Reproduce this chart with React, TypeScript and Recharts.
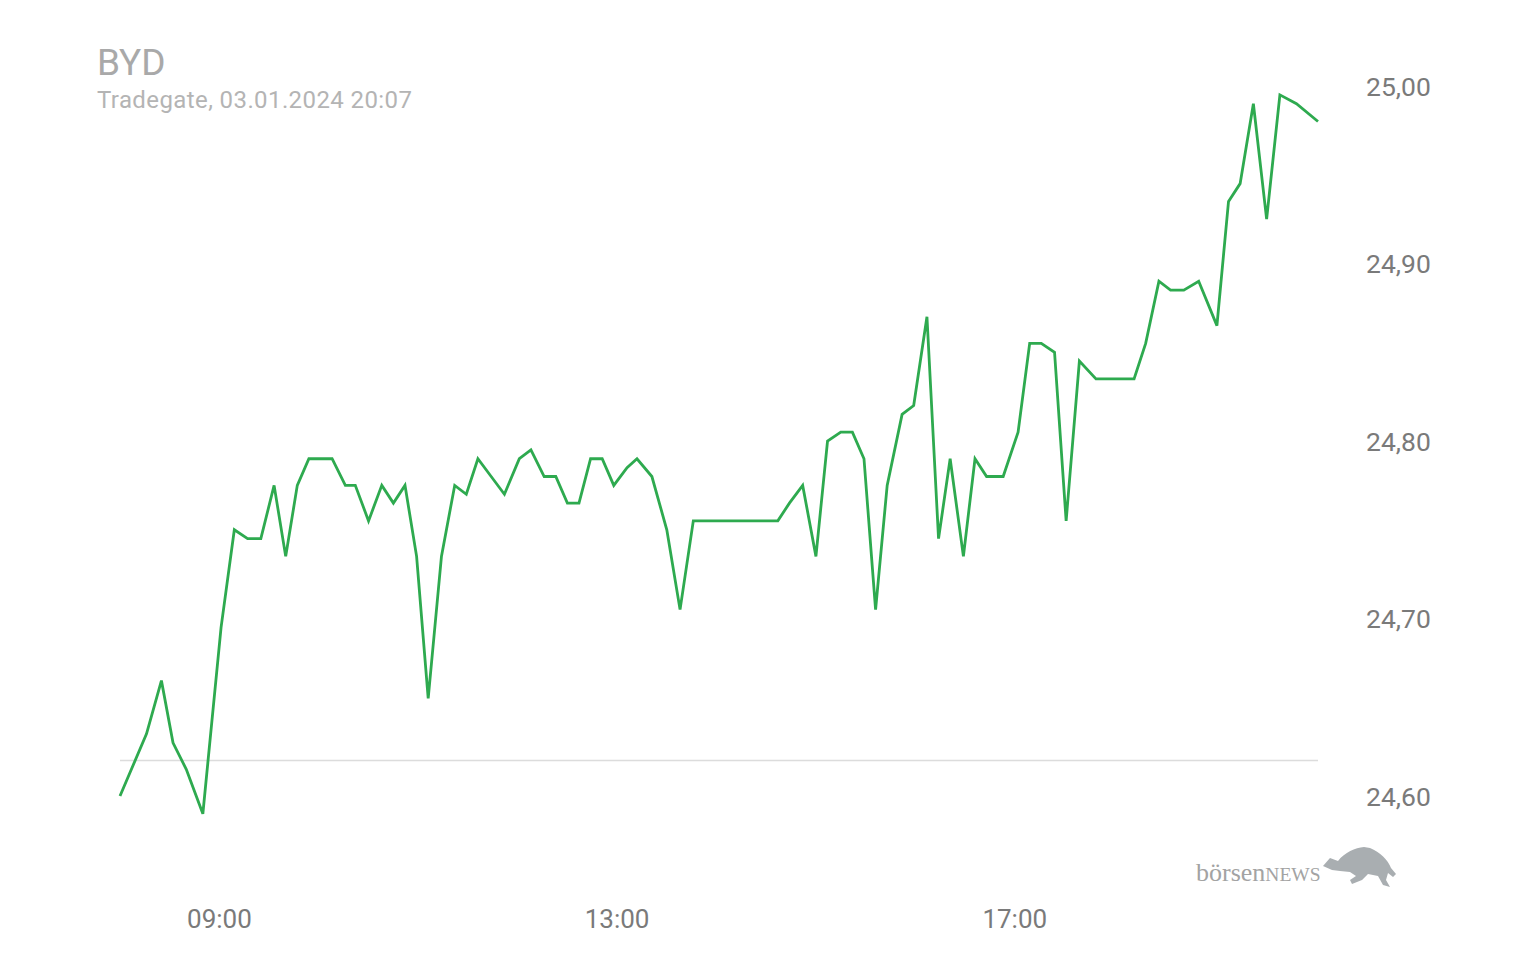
import { LineChart, Line, XAxis, YAxis, ReferenceLine } from "recharts"

// BYD – Tradegate intraday, 03.01.2024
const times = [
  "08:00", "08:16", "08:25", "08:32", "08:40", "08:50",
  "09:01", "09:09", "09:17", "09:25", "09:33", "09:40", "09:47", "09:54",
  "10:01", "10:08", "10:16", "10:22", "10:30", "10:38", "10:45", "10:52", "10:59",
  "11:06", "11:14", "11:22", "11:29", "11:36", "11:44", "11:52",
  "12:01", "12:08", "12:16", "12:23", "12:30", "12:37", "12:44", "12:51", "12:58",
  "13:06", "13:12", "13:21", "13:30", "13:38", "13:46", "13:52",
  "14:00", "14:07", "14:14", "14:21", "14:28", "14:37", "14:44", "14:52",
  "15:00", "15:07", "15:15", "15:22", "15:29", "15:36", "15:43", "15:52", "15:59",
  "16:07", "16:14", "16:21", "16:29", "16:36", "16:43", "16:53",
  "17:02", "17:09", "17:16", "17:24", "17:31", "17:39", "17:49", "17:56",
  "18:03", "18:12", "18:19", "18:27", "18:34", "18:42", "18:51",
  "19:02", "19:09", "19:16", "19:24", "19:32", "19:40", "19:50",
  "20:03",
]

const prices = [
  24.6, 24.635, 24.665, 24.63, 24.615, 24.59,
  24.695, 24.75, 24.745, 24.745, 24.775, 24.735, 24.775, 24.79,
  24.79, 24.79, 24.775, 24.775, 24.755, 24.775, 24.765, 24.775, 24.735,
  24.655, 24.735, 24.775, 24.77, 24.79, 24.78, 24.77,
  24.79, 24.795, 24.78, 24.78, 24.765, 24.765, 24.79, 24.79, 24.775,
  24.785, 24.79, 24.78, 24.75, 24.705, 24.755, 24.755,
  24.755, 24.755, 24.755, 24.755, 24.755, 24.755, 24.765, 24.775,
  24.735, 24.8, 24.805, 24.805, 24.79, 24.705, 24.775, 24.815, 24.82,
  24.87, 24.745, 24.79, 24.735, 24.79, 24.78, 24.78,
  24.805, 24.855, 24.855, 24.85, 24.755, 24.845, 24.835, 24.835,
  24.835, 24.835, 24.855, 24.89, 24.885, 24.885, 24.89,
  24.865, 24.935, 24.945, 24.99, 24.925, 24.995, 24.99,
  24.98,
]

const xTicks = ["09:00", "13:00", "17:00"]
const yTicks = [24.6, 24.7, 24.8, 24.9, 25.0]
const previousClose = 24.62

const toMin = (s: string) => {
  const [h, m] = s.split(":").map(Number)
  return h * 60 + m
}
const fmtTime = (v: number) =>
  `${String(Math.floor(v / 60)).padStart(2, "0")}:${String(v % 60).padStart(2, "0")}`

const data = times.map((t, i) => ({ t: toMin(t), price: prices[i] }))

const XTick = ({ x, y, payload }: any) => (
  <text x={x} y={y} dy={52} textAnchor="middle" dominantBaseline="central"
    fontSize={26} fill="#7a7a7a" fontFamily="Roboto">
    {fmtTime(payload.value)}
  </text>
)

const YTick = ({ x, y, payload }: any) => (
  <text x={x} y={y} dx={48} textAnchor="start" dominantBaseline="central"
    fontSize={26.5} fill="#7a7a7a" fontFamily="Roboto">
    {payload.value.toFixed(2).replace(".", ",")}
  </text>
)

export default function App() {
  return (
    <div style={{ position: "absolute", left: 0, top: 0, width: 1536, height: 960, background: "#fff" }}>
      <div style={{ position: "absolute", left: 97, top: 43, fontFamily: "Roboto", fontSize: 37, color: "#a9a9a9", lineHeight: "40px" }}>
        BYD
      </div>
      <div style={{ position: "absolute", left: 97, top: 86, fontFamily: "Roboto", fontSize: 24, letterSpacing: 0.4, color: "#b4b4b4", lineHeight: "28px" }}>
        Tradegate, 03.01.2024 20:07
      </div>

      <LineChart
        width={1536}
        height={960}
        data={data}
        margin={{ top: 50.5, right: 88, left: 120, bottom: 33 }}
      >
        <XAxis
          type="number"
          dataKey="t"
          domain={["dataMin", "dataMax"]}
          ticks={xTicks.map(toMin)}
          tick={<XTick />}
          axisLine={false}
          tickLine={false}
          tickSize={0}
          tickMargin={0}
          height={60}
        />
        <YAxis
          orientation="right"
          domain={[24.56, 25.02]}
          ticks={yTicks}
          tick={<YTick />}
          axisLine={false}
          tickLine={false}
          tickSize={0}
          tickMargin={0}
          width={130}
        />
        <ReferenceLine y={previousClose} stroke="#dcdcdc" strokeWidth={1.5} />
        <Line
          type="linear"
          dataKey="price"
          stroke="#2eaa4f"
          strokeWidth={2.8}
          dot={false}
          isAnimationActive={false}
        />
      </LineChart>

      <svg style={{ position: "absolute", left: 0, top: 0 }} width={1536} height={960} pointerEvents="none">
        <text x={1196} y={881} fill="#a3a3a3" fontFamily="Liberation Serif">
          <tspan fontSize={26}>börsen</tspan>
          <tspan fontSize={19.5}>NEWS</tspan>
        </text>
        <path
          d="M1323,866 L1330,858 L1338,861 C1345,852 1355,848 1364,847 L1370,848 C1380,852 1388,860 1391,868 L1396,874 L1393,877 L1388,873 L1386,880 L1390,887 L1383,885 L1378,876 L1368,874 L1362,880 L1352,884 L1350,880 L1356,876 L1350,872 L1340,871 L1332,870 Z"
          fill="#a9aeb1"
        />
      </svg>
    </div>
  )
}
